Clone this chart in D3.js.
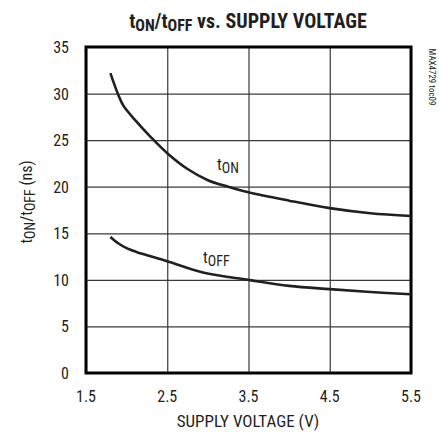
<!DOCTYPE html>
<html>
<head>
<meta charset="utf-8">
<script src="https://cdn.jsdelivr.net/npm/d3@7"></script>
<style>
body { margin: 0; background: #fff; }
text { font-family: "Liberation Sans Narrow", "Roboto Condensed", "DejaVu Sans Condensed", sans-serif; fill: #231f20; }
</style>
</head>
<body>
<div id="chart"></div>
<script>
var width = 439, height = 432;
var margin = {left: 86, right: 28, top: 47, bottom: 59};

// data
var xTicks = [1.5, 2.5, 3.5, 4.5, 5.5];
var yTicks = [0, 5, 10, 15, 20, 25, 30, 35];

var tonVolts = [1.8, 1.9, 1.96, 2.1, 2.3, 2.5, 2.75, 3.0, 3.25, 3.5, 4.0, 4.5, 5.0, 5.5];
var tonValues = [32.2, 29.8, 28.7, 27.2, 25.3, 23.6, 21.9, 20.7, 20.0, 19.4, 18.5, 17.7, 17.15, 16.85];

var toffVolts = [1.8, 1.9, 2.0, 2.12, 2.5, 2.94, 3.5, 4.0, 4.5, 5.0, 5.5];
var toffValues = [14.6, 13.9, 13.4, 13.0, 12.0, 10.8, 10.0, 9.35, 9.0, 8.7, 8.45];

var svg = d3.select("#chart").append("svg")
	.attr("width", width)
	.attr("height", height);

var x = d3.scaleLinear().domain([1.5, 5.5]).range([margin.left, width - margin.right]);
var y = d3.scaleLinear().domain([0, 35]).range([height - margin.bottom, margin.top]);

// grid
svg.append("g")
	.attr("transform", "translate(0," + (height - margin.bottom) + ")")
	.call(d3.axisBottom(x).tickValues(xTicks).tickSize(-(height - margin.top - margin.bottom)).tickFormat(""))
	.call(function(g){
		g.select(".domain").remove();
		g.selectAll("line").attr("stroke", "#3a3a3a").attr("stroke-width", 1.2);
	});

svg.append("g")
	.attr("transform", "translate(" + margin.left + ",0)")
	.call(d3.axisLeft(y).tickValues(yTicks).tickSize(-(width - margin.left - margin.right)).tickFormat(""))
	.call(function(g){
		g.select(".domain").remove();
		g.selectAll("line").attr("stroke", "#3a3a3a").attr("stroke-width", 1.2);
	});

// tick labels
svg.selectAll(".xlab")
	.data(xTicks)
	.enter()
	.append("text")
	.attr("class", "xlab")
	.attr("x", function(d){ return x(d); })
	.attr("y", 402)
	.attr("text-anchor", "middle")
	.style("font-size", "16px")
	.text(function(d){ return d3.format(".1f")(d); });

svg.selectAll(".ylab")
	.data(yTicks)
	.enter()
	.append("text")
	.attr("class", "ylab")
	.attr("x", 69)
	.attr("y", function(d){ return y(d) + 6; })
	.attr("text-anchor", "end")
	.style("font-size", "16px")
	.text(function(d){ return d; });

// frame
svg.append("rect")
	.attr("x", margin.left)
	.attr("y", margin.top)
	.attr("width", width - margin.left - margin.right)
	.attr("height", height - margin.top - margin.bottom)
	.attr("fill", "none")
	.attr("stroke", "#000")
	.attr("stroke-width", 3);

var line = d3.line()
	.x(function(d){ return x(d[0]); })
	.y(function(d){ return y(d[1]); })
	.curve(d3.curveCatmullRom.alpha(0.5));

svg.append("path")
	.datum(d3.zip(tonVolts, tonValues))
	.attr("d", line)
	.attr("fill", "none")
	.attr("stroke", "#231f20")
	.attr("stroke-width", 2.6);

svg.append("path")
	.datum(d3.zip(toffVolts, toffValues))
	.attr("d", line)
	.attr("fill", "none")
	.attr("stroke", "#231f20")
	.attr("stroke-width", 2.6);

// curve labels
function subLabel(px, py, sub, size){
	var t = svg.append("text")
		.attr("x", px)
		.attr("y", py)
		.style("font-size", size + "px");
	t.append("tspan").text("t");
	t.append("tspan").attr("dy", 3).style("font-size", (size - 2) + "px").text(sub);
	return t;
}
subLabel(217, 170, "ON", 16);
subLabel(203, 263, "OFF", 16);

// title
var title = svg.append("text")
	.attr("x", 248)
	.attr("y", 28)
	.attr("text-anchor", "middle")
	.style("font-size", "20px")
	.style("font-weight", "bold");
title.append("tspan").text("t");
title.append("tspan").attr("dy", 3).style("font-size", "16px").text("ON");
title.append("tspan").attr("dy", -3).text("/t");
title.append("tspan").attr("dy", 3).style("font-size", "16px").text("OFF");
title.append("tspan").attr("dy", -3).text(" vs. SUPPLY VOLTAGE");

// axis titles
svg.append("text")
	.attr("x", 248)
	.attr("y", 427)
	.attr("text-anchor", "middle")
	.style("font-size", "17px")
	.text("SUPPLY VOLTAGE (V)");

var ylab = svg.append("text")
	.attr("transform", "translate(32,202) rotate(-90)")
	.attr("text-anchor", "middle")
	.style("font-size", "16px");
ylab.append("tspan").text("t");
ylab.append("tspan").attr("dy", 3).style("font-size", "14px").text("ON");
ylab.append("tspan").attr("dy", -3).text("/t");
ylab.append("tspan").attr("dy", 3).style("font-size", "14px").text("OFF");
ylab.append("tspan").attr("dy", -3).text(" (ns)");

svg.append("text")
	.attr("transform", "translate(429,77) rotate(90)")
	.attr("text-anchor", "middle")
	.style("font-size", "9px")
	.text("MAX4729 toc09");
</script>
</body>
</html>
